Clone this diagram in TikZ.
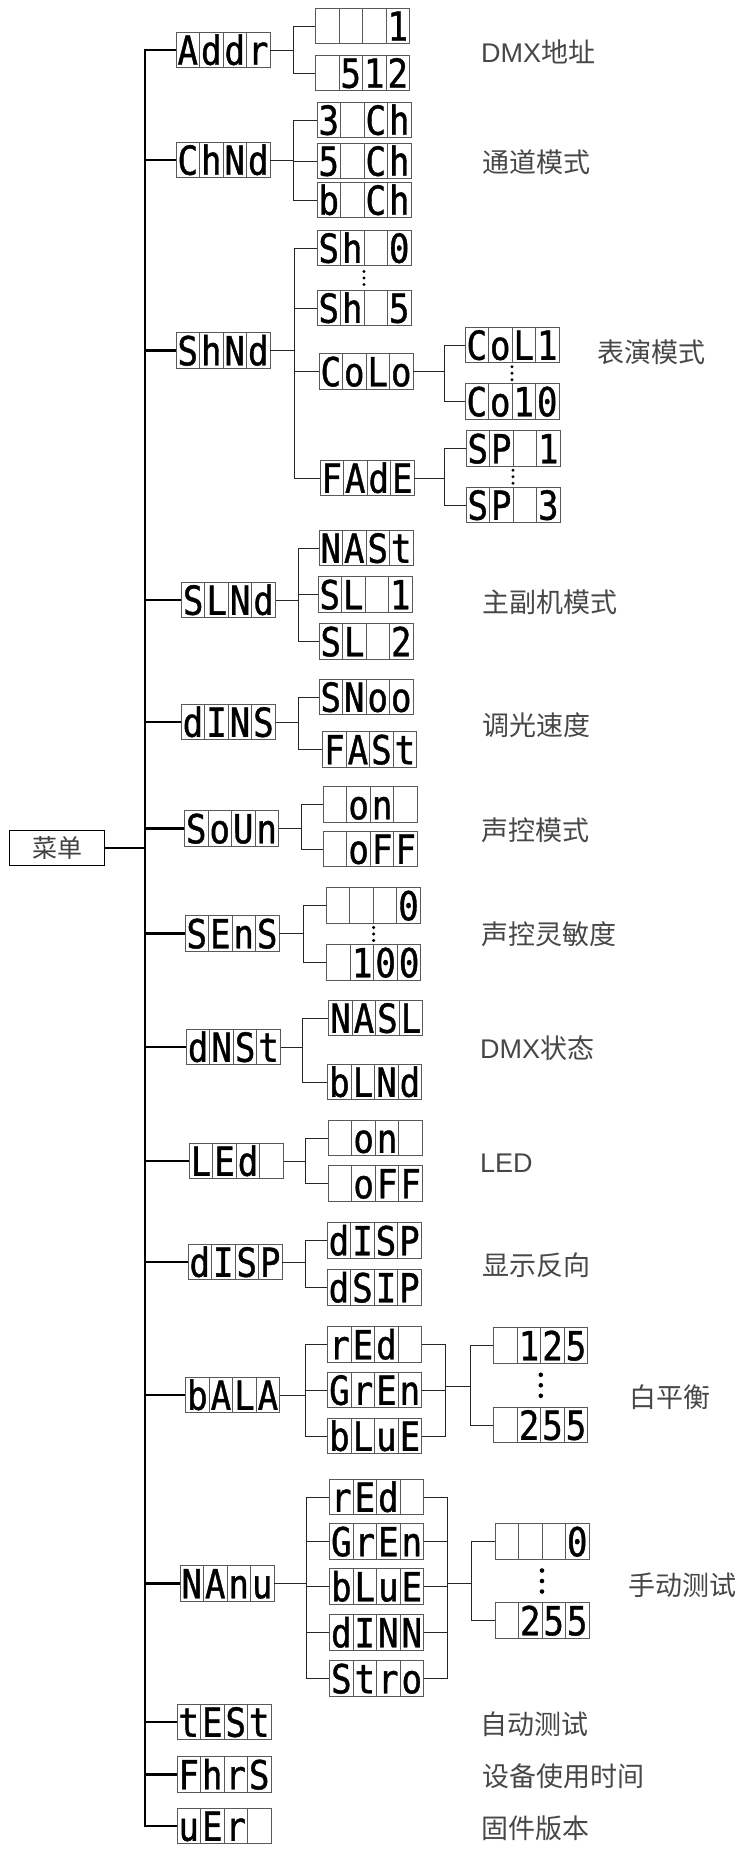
\documentclass[tikz,border=0pt]{standalone}
\usepackage{fontspec}
\setmainfont{Liberation Sans}
\newfontfamily\cjk{Noto Sans CJK SC}
\newfontfamily\segfont[FakeStretch=0.85,FakeBold=1]{DejaVu Sans Mono}
\usetikzlibrary{calc}

% four cells of a display
\newcommand{\lcd}[4]{\rule[-3pt]{0pt}{35.5pt}\makebox[23.5pt]{#1}\makebox[23.5pt]{#2}\makebox[23.5pt]{#3}\makebox[23.5pt]{#4}}

\tikzstyle{panel}=[draw=black!65,line width=0.9pt,minimum width=94pt,minimum height=35.5pt,inner sep=0pt,
  font=\segfont\fontsize{40}{40}\selectfont,
  path picture={\foreach \k in {1,2,3}
    \draw[black!65,line width=0.9pt] ($(path picture bounding box.south west)!\k/4!(path picture bounding box.south east)$) -- ($(path picture bounding box.north west)!\k/4!(path picture bounding box.north east)$);}]
\tikzstyle{rootbox}=[draw,line width=0.9pt,minimum width=95pt,minimum height=35pt,inner sep=0pt,text=black!75,font=\cjk\fontsize{25}{25}\selectfont]
\tikzstyle{note}=[anchor=west,inner sep=0pt,text=black!72,font=\cjk\fontsize{27}{27}\selectfont]
\tikzstyle{trunk}=[draw,line width=2.2pt]
\tikzstyle{wire}=[draw,black!85,line width=0.9pt]

\begin{document}
\begin{tikzpicture}[x=1pt,y=-1pt]
\useasboundingbox (0,0) rectangle (749,1854);
	\node[rootbox] (menu) at (57,848) {菜单};
	\coordinate (spine) at (145,0);
	% first level
	\node[panel] (addr) at (223,50) {\lcd{A}{d}{d}{r}};
	\node[panel] (chmd) at (223,160) {\lcd{C}{h}{N}{d}};
	\node[panel] (shmd) at (223,350.5) {\lcd{S}{h}{N}{d}};
	\node[panel] (slmd) at (228.4,600) {\lcd{S}{L}{N}{d}};
	\node[panel] (dims) at (228.2,722) {\lcd{d}{I}{N}{S}};
	\node[panel] (soun) at (231.5,828.5) {\lcd{S}{o}{U}{n}};
	\node[panel] (sens) at (232,933.5) {\lcd{S}{E}{n}{S}};
	\node[panel] (dmst) at (233.4,1047) {\lcd{d}{N}{S}{t}};
	\node[panel] (led) at (236.3,1161) {\lcd{L}{E}{d}{}};
	\node[panel] (disp) at (235,1262) {\lcd{d}{I}{S}{P}};
	\node[panel] (bala) at (232.7,1395) {\lcd{b}{A}{L}{A}};
	\node[panel] (manu) at (227,1583.5) {\lcd{N}{A}{n}{u}};
	\node[panel] (test) at (224,1722) {\lcd{t}{E}{S}{t}};
	\node[panel] (fhrs) at (224,1774.5) {\lcd{F}{h}{r}{S}};
	\node[panel] (uer) at (224,1826) {\lcd{u}{E}{r}{}};
	% second level
	\node[panel] (addr1) at (362.5,26) {\lcd{}{}{}{1}};
	\node[panel] (addr2) at (362.5,73) {\lcd{}{5}{1}{2}};
	\node[panel] (ch3) at (364,120) {\lcd{3}{}{C}{h}};
	\node[panel] (ch5) at (364,161) {\lcd{5}{}{C}{h}};
	\node[panel] (ch6) at (364,200) {\lcd{b}{}{C}{h}};
	\node[panel] (sh0) at (364,248) {\lcd{S}{h}{}{0}};
	\node[panel] (sh5) at (364,308) {\lcd{S}{h}{}{5}};
	\node[panel] (colo) at (366,371.5) {\lcd{C}{o}{L}{o}};
	\node[panel] (fade) at (367,478) {\lcd{F}{A}{d}{E}};
	\node[panel] (col1) at (512,345) {\lcd{C}{o}{L}{1}};
	\node[panel] (col10) at (512,401.5) {\lcd{C}{o}{1}{0}};
	\node[panel] (sp1) at (513,448.5) {\lcd{S}{P}{}{1}};
	\node[panel] (sp3) at (513,505) {\lcd{S}{P}{}{3}};
	\node[panel] (mast) at (366,548) {\lcd{N}{A}{S}{t}};
	\node[panel] (sl1) at (365,594.5) {\lcd{S}{L}{}{1}};
	\node[panel] (sl2) at (366,641.5) {\lcd{S}{L}{}{2}};
	\node[panel] (smoo) at (366,697) {\lcd{S}{N}{o}{o}};
	\node[panel] (fast) at (369.7,749.5) {\lcd{F}{A}{S}{t}};
	\node[panel] (sndon) at (370.4,804.5) {\lcd{}{o}{n}{}};
	\node[panel] (sndoff) at (370.4,849) {\lcd{}{o}{F}{F}};
	\node[panel] (sens0) at (373.3,905.5) {\lcd{}{}{}{0}};
	\node[panel] (sens100) at (373.9,962.5) {\lcd{}{1}{0}{0}};
	\node[panel] (masl) at (375.7,1018) {\lcd{N}{A}{S}{L}};
	\node[panel] (blnd) at (374.7,1082) {\lcd{b}{L}{N}{d}};
	\node[panel] (ledon) at (375.4,1138) {\lcd{}{o}{n}{}};
	\node[panel] (ledoff) at (375.4,1183.5) {\lcd{}{o}{F}{F}};
	\node[panel] (disp1) at (374.2,1240.5) {\lcd{d}{I}{S}{P}};
	\node[panel] (disp2) at (374.2,1287.5) {\lcd{d}{S}{I}{P}};
	\node[panel] (bred) at (374.7,1344.5) {\lcd{r}{E}{d}{}};
	\node[panel] (bgrn) at (374.7,1390) {\lcd{G}{r}{E}{n}};
	\node[panel] (bblu) at (374.7,1436) {\lcd{b}{L}{u}{E}};
	\node[panel] (b125) at (540.8,1345.5) {\lcd{}{1}{2}{5}};
	\node[panel] (b255) at (540.8,1425) {\lcd{}{2}{5}{5}};
	\node[panel] (mred) at (376.6,1497) {\lcd{r}{E}{d}{}};
	\node[panel] (mgrn) at (376.6,1541.5) {\lcd{G}{r}{E}{n}};
	\node[panel] (mblu) at (376.6,1586.5) {\lcd{b}{L}{u}{E}};
	\node[panel] (mdim) at (376.6,1632.5) {\lcd{d}{I}{N}{N}};
	\node[panel] (mstr) at (376.6,1678.5) {\lcd{S}{t}{r}{o}};
	\node[panel] (m0) at (542,1541.5) {\lcd{}{}{}{0}};
	\node[panel] (m255) at (542,1620.5) {\lcd{}{2}{5}{5}};
	% captions
	\node[note] (t1) at (481,52) {{\rmfamily DMX}地址};
	\node[note] (t2) at (482,162) {通道模式};
	\node[note] (t3) at (597,352) {表演模式};
	\node[note] (t4) at (482,602) {主副机模式};
	\node[note] (t5) at (482,725) {调光速度};
	\node[note] (t6) at (481,830) {声控模式};
	\node[note] (t7) at (481,934) {声控灵敏度};
	\node[note] (t8) at (480,1048) {{\rmfamily DMX}状态};
	\node[note] (t9) at (480,1163) {\rmfamily LED};
	\node[note] (t10) at (482,1265) {显示反向};
	\node[note] (t11) at (629,1397) {白平衡};
	\node[note] (t12) at (628,1585) {手动测试};
	\node[note] (t13) at (480,1724) {自动测试};
	\node[note] (t14) at (482,1776) {设备使用时间};
	\node[note] (t15) at (481,1828) {固件版本};
	% trunk to the menu entries
	\path[trunk] (menu.east) -- (spine |- menu.east);
	\path[trunk] (addr.west) -| (spine |- uer.west) -- (uer.west);
	\foreach \n in {chmd,shmd,slmd,dims,soun,sens,dmst,led,disp,bala,manu,test,fhrs}
	\path[trunk] (spine |- \n.west) -- (\n.west);
	% forks to the settings
	\foreach \source/\dest/\dx in {addr/addr1/23, addr/addr2/23, chmd/ch3/23, chmd/ch5/23, chmd/ch6/23,
	  shmd/sh0/24, shmd/sh5/24, shmd/colo/24, shmd/fade/24, colo/col1/31, colo/col10/31, fade/sp1/30, fade/sp3/30,
	  slmd/mast/23, slmd/sl1/23, slmd/sl2/23, dims/smoo/23, dims/fast/23, soun/sndon/22, soun/sndoff/22,
	  sens/sens0/23.5, sens/sens100/23.5, dmst/masl/22, dmst/blnd/22, led/ledon/22, led/ledoff/22,
	  disp/disp1/22.5, disp/disp2/22.5, bala/bred/25, bala/bgrn/25, bala/bblu/25,
	  manu/mred/32, manu/mgrn/32, manu/mblu/32, manu/mdim/32, manu/mstr/32}
	\path[wire] (\source.east) -- ++(\dx,0) |- (\dest.west);
	% colour channels share one value range
	\coordinate (bjoin) at (445.5,1386);
	\coordinate (mjoin) at (447.3,1583);
	\foreach \n in {bred,bgrn,bblu}
	\path[wire] (\n.east) -| (bjoin);
	\foreach \n in {mred,mgrn,mblu,mdim,mstr}
	\path[wire] (\n.east) -| (mjoin);
	\foreach \dest in {b125,b255}
	\path[wire] (bjoin) -- ++(24.5,0) |- (\dest.west);
	\foreach \dest in {m0,m255}
	\path[wire] (mjoin) -- ++(24.3,0) |- (\dest.west);
	% dots between first and last value
	\foreach \a/\b in {sh0/sh5, col1/col10, sp1/sp3, sens0/sens100}
	\foreach \k in {-1,0,1}
	\fill ($(\a.south)!0.5!(\b.north)$) ++(0,\k*6.5) circle (1.7pt);
	\foreach \a/\b in {b125/b255, m0/m255}
	\foreach \k in {-1,0,1}
	\fill ($(\a.south)!0.5!(\b.north)$) ++(0,\k*10.5) circle (2.3pt);
\end{tikzpicture}
\end{document}
